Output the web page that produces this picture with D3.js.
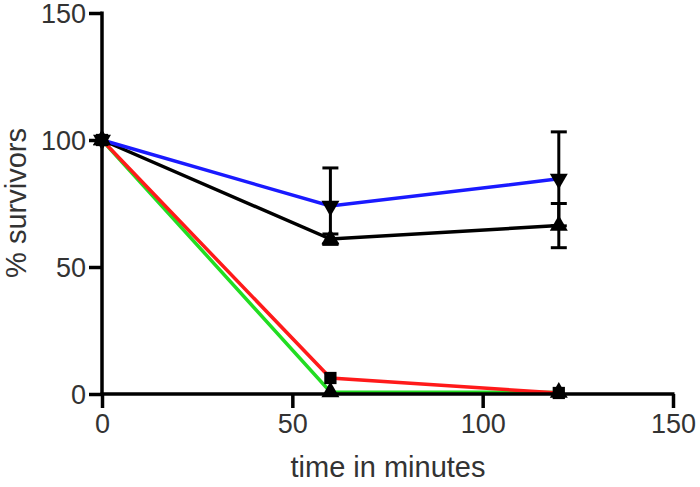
<!DOCTYPE html>
<html><head><meta charset="utf-8">
<script src="https://cdn.jsdelivr.net/npm/d3@7"></script>
<style>body{margin:0;background:#fff}svg{display:block}</style>
</head><body>
<svg id="c" width="700" height="487"></svg>
<script>
const times = [0, 60, 120];
const blackVals = [100, 61, 66.3];
const blackErr = [0, 2, 8.7];
const blueVals = [100, 74, 84.7];
const blueErr = [0, 15, 18.5];
const redVals = [100, 6.3, 0.4];
const redErr = [0, 0, 0];
const greenVals = [100, 0.8, 0.6];
const greenErr = [0, 0, 0];
const xTicks = [0, 50, 100, 150];
const yTicks = [0, 50, 100, 150];

const series = [
  {name:"black", color:"#000000", vals:blackVals, err:blackErr, sym:d3.symbolTriangle, rot:0},
  {name:"green", color:"#22dd22", vals:greenVals, err:greenErr, sym:d3.symbolTriangle, rot:0},
  {name:"red", color:"#ff1a1a", vals:redVals, err:redErr, sym:d3.symbolSquare, rot:0},
  {name:"blue", color:"#1a1aff", vals:blueVals, err:blueErr, sym:d3.symbolTriangle, rot:180}
];

const svg = d3.select("#c");
const x = d3.scaleLinear().domain([0,150]).range([102,673]);
const y = d3.scaleLinear().domain([0,150]).range([394,13]);
const font = "Liberation Sans, Arial, sans-serif";

// lines
const line = d3.line().x((d,i)=>x(times[i])).y(d=>y(d));
series.forEach(s=>{
  svg.append("path").datum(s.vals).attr("d", line)
    .attr("fill","none").attr("stroke", s.color).attr("stroke-width",3.5);
});

// error bars
series.forEach(s=>{
  s.vals.forEach((v,i)=>{
    const e = s.err[i];
    if(e<=0) return;
    const g = svg.append("g").attr("stroke","#000").attr("stroke-width",3);
    g.append("line").attr("x1",x(times[i])).attr("x2",x(times[i])).attr("y1",y(v-e)).attr("y2",y(v+e));
    [v-e, v+e].forEach(t=>{
      g.append("line").attr("x1",x(times[i])-8).attr("x2",x(times[i])+8).attr("y1",y(t)).attr("y2",y(t));
    });
  });
});

// markers
series.forEach(s=>{
  const sym = d3.symbol().type(s.sym).size(s.sym===d3.symbolSquare?150:140);
  s.vals.forEach((v,i)=>{
    svg.append("path").attr("d", sym())
      .attr("transform",`translate(${x(times[i])},${y(v)}) rotate(${s.rot})`)
      .attr("fill","#000");
  });
});

// axes
const xAxis = d3.axisBottom(x).tickValues(xTicks).tickSize(14).tickPadding(6).tickFormat(d3.format("d"));
const yAxis = d3.axisLeft(y).tickValues(yTicks).tickSize(13).tickPadding(3).tickFormat(d3.format("d"));
const gx = svg.append("g").attr("transform","translate(0,394)").call(xAxis);
const gy = svg.append("g").attr("transform","translate(102,0)").call(yAxis);
[gx,gy].forEach(g=>{
  g.select(".domain").attr("stroke","#000").attr("stroke-width",3.5)
    .attr("d", g===gx ? "M100.5,0H674.5" : "M0,395.5V11.5");
  g.selectAll(".tick line").attr("stroke","#000").attr("stroke-width",3.5);
  g.selectAll(".tick text").attr("fill","#333").style("font-family",font).style("font-size","27px");
});
gy.selectAll(".tick text").attr("dy","0.36em");

svg.append("text").attr("x",388).attr("y",477).attr("text-anchor","middle")
  .style("font-family",font).style("font-size","29px").attr("fill","#333").text("time in minutes");
svg.append("text").attr("transform","translate(26,203) rotate(-90)").attr("text-anchor","middle")
  .style("font-family",font).style("font-size","29px").attr("fill","#333").text("% survivors");
</script>
</body></html>
